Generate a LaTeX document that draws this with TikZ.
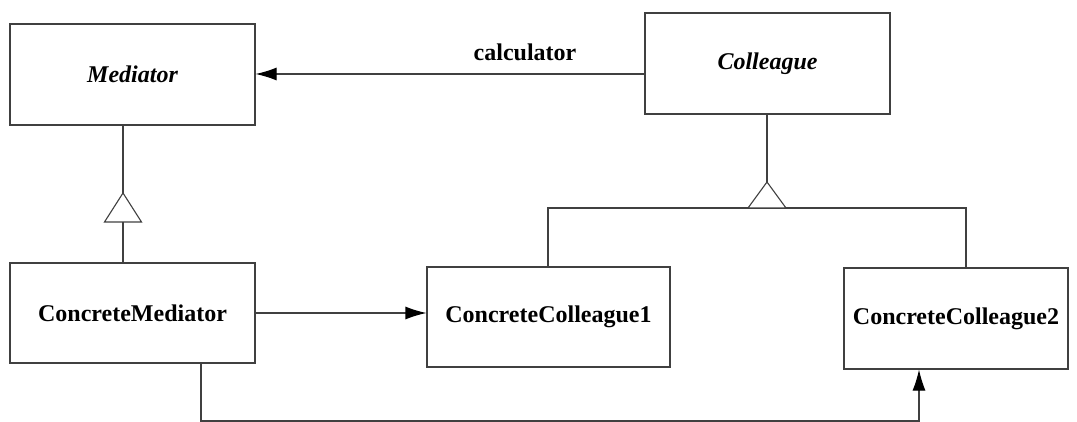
\documentclass[tikz,border=0pt]{standalone}
\usepackage{fontspec}
\setmainfont{Liberation Serif}
\usetikzlibrary{arrows.meta}
\begin{document}
\begin{tikzpicture}[x=1pt,y=-1pt,
  cls/.style={draw=black!75,line width=1.1pt,rectangle,inner sep=0pt,
    font=\fontsize{24}{28}\selectfont\bfseries},
  lab/.style={font=\fontsize{24}{28}\selectfont\bfseries,inner sep=0pt},
  link/.style={draw=black!75,line width=1.1pt},
  nav/.style={link,-{Latex[length=21pt,width=13pt,black]}},
  inh/.style={draw=black!75,line width=1.1pt,fill=white}]
\useasboundingbox (0,0) rectangle (1077,422);
\node[cls,minimum width=245pt,minimum height=101pt] (med) at (132.5,74.5) {\itshape Mediator};
\node[cls,minimum width=245pt,minimum height=101pt] (col) at (767.5,63.5) {\itshape Colleague};
\node[cls,minimum width=245pt,minimum height=100pt] (cm) at (132.5,313) {ConcreteMediator};
\node[cls,minimum width=243pt,minimum height=100pt] (cc1) at (548.5,317) {ConcreteColleague1};
\node[cls,minimum width=224pt,minimum height=101pt] (cc2) at (956,318.5) {ConcreteColleague2};
% association
\draw[nav] (col.west |- 0,74) -- (med.east |- 0,74);
\node[lab] (lbl) at (525,52) {calculator};
% Mediator inheritance
\coordinate (mt) at (123,193);
\coordinate (mb) at (123,222);
\draw[link] (med.south -| mt) -- (mt);
\draw[link] (mb) -- (cm.north -| mb);
\draw[inh] (mt) -- (141.5,222) -- (104.5,222) -- cycle;
% Colleague inheritance
\coordinate (ct) at (767,182);
\coordinate (cb) at (767,208);
\coordinate (h1) at (548,208);
\coordinate (h2) at (966,208);
\draw[link] (col.south -| ct) -- (ct);
\draw[link] (cc1.north -| h1) -- (h1) -- (h2) -- (cc2.north -| h2);
\draw[inh] (ct) -- (786,208) -- (748,208) -- cycle;
% navigations
\draw[nav] (cm.east |- 0,313) -- (cc1.west |- 0,313);
\coordinate (b1) at (201,421);
\coordinate (b2) at (919,421);
\draw[nav] (cm.south -| b1) -- (b1) -- (b2) -- (cc2.south -| b2);
\end{tikzpicture}
\end{document}
